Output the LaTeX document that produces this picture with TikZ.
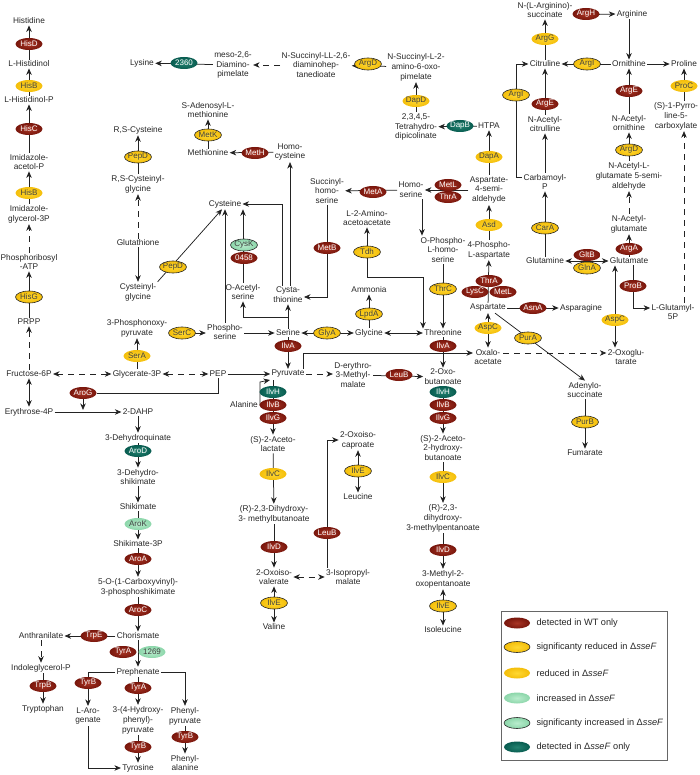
\documentclass[tikz,border=0pt]{standalone}
\usepackage{fontspec}
\setmainfont{Liberation Sans}
\usetikzlibrary{shapes.geometric,arrows.meta,calc}
\pgfdeclarelayer{bg}
\pgfsetlayers{bg,main}
\definecolor{wtred}{RGB}{120,22,12}
\definecolor{wtredin}{RGB}{168,52,36}
\definecolor{yel}{RGB}{244,190,10}
\definecolor{yelin}{RGB}{255,216,50}
\definecolor{lgr}{RGB}{140,214,170}
\definecolor{lgrin}{RGB}{185,236,205}
\definecolor{tealc}{RGB}{8,92,80}
\definecolor{tealin}{RGB}{35,130,112}
\definecolor{lncol}{RGB}{35,35,35}
\begin{document}
\begin{tikzpicture}[x=1pt,y=-1pt,
  met/.style={align=center,font=\fontsize{8.3}{9.9}\selectfont,inner sep=1.2pt,text=black!85},
  enzbase/.style={ellipse,minimum width=27pt,minimum height=12pt,inner sep=0pt,
     font=\fontsize{8}{9}\selectfont,
     execute at begin node={\hbox to 0pt\bgroup\hss},execute at end node={\hss\egroup}},
  wt/.style={enzbase,inner color=wtredin,outer color=wtred,text=white},
  sred/.style={enzbase,inner color=yelin,outer color=yel,draw=black!85,line width=0.6pt,text=black!75},
  rdc/.style={enzbase,inner color=yelin,outer color=yel,text=black!75},
  inc/.style={enzbase,inner color=lgrin,outer color=lgr,text=black!75},
  sinc/.style={inc,draw=black!85,line width=0.6pt},
  ko/.style={enzbase,inner color=tealin,outer color=tealc,text=white},
  lin/.style={draw=lncol,line width=0.75pt},
  arr/.style={lin,-{Stealth[length=6.5pt,width=5.5pt,inset=2pt]}},
  arrb/.style={lin,{Stealth[length=6.5pt,width=5.5pt,inset=2pt]}-{Stealth[length=6.5pt,width=5.5pt,inset=2pt]}},
  dsh/.style={dash pattern=on 6pt off 5pt},
  legt/.style={anchor=west,font=\fontsize{9.2}{11}\selectfont,text=black!85},
]
\useasboundingbox (0,0) rectangle (700,775);

% ---------------- Histidine
\node[met] (his) at (29,21) {Histidine};
\node[met] (hisol) at (29,64) {L-Histidinol};
\node[met] (hisolp) at (29,100) {L-Histidinol-P};
\node[met] (iap) at (29,162) {Imidazole-\\acetol-P};
\node[met] (igp) at (29,214) {Imidazole-\\glycerol-3P};
\node[met] (prat) at (29,262) {Phosphoribosyl\\-ATP};
\node[met] (prpp) at (29,322) {PRPP};
\node[met] (f6p) at (29,374) {Fructose-6P};
\node[met] (e4p) at (29,412) {Erythrose-4P};
\node[wt] (HisD) at (29,44) {HisD};
\node[rdc] (HisBa) at (29,86) {HisB};
\node[wt] (HisC) at (29,129) {HisC};
\node[rdc] (HisBb) at (29,193) {HisB};
\node[sred] (HisG) at (29,297) {HisG};

% ---------------- Serine / glycolysis
\node[met] (g3p) at (137,374) {Glycerate-3P};
\node[met] (pep) at (218,374) {PEP};
\node[met] (ppyr) at (137,328) {3-Phosphonoxy-\\pyruvate};
\node[met] (pser) at (225,332) {Phospho-\\serine};
\node[rdc] (SerA) at (137,356) {SerA};
\node[sred] (SerC) at (182,333) {SerC};

% ---------------- Cysteine / methionine
\node[met] (rscys) at (138,130) {R,S-Cysteine};
\node[met] (rscysgly) at (138,184) {R,S-Cysteinyl-\\glycine};
\node[met] (gsh) at (138,243) {Glutathione};
\node[met] (cysgly) at (138,292) {Cysteinyl-\\glycine};
\node[met] (cys) at (225,204) {Cysteine};
\node[sred] (PepDa) at (138,157) {PepD};
\node[sred] (PepDb) at (173,267) {PepD};
\node[met] (oas) at (243,292) {O-Acetyl-\\serine};
\node[met] (ser) at (288,333) {Serine};
\node[met] (cysta) at (288,295) {Cysta-\\thionine};
\node[met] (hcys) at (290,152) {Homo-\\cysteine};
\node[met] (met) at (208,153) {Methionine};
\node[met] (sam) at (208,110) {S-Adenosyl-L-\\methionine};
\node[sred] (MetK) at (208,135) {MetK};
\node[wt] (MetH) at (255,153) {MetH};
\node[sinc] (CysK) at (244,245) {CysK};
\node[wt] (E0458) at (244,258) {0458};
\node[met] (shser) at (327,191) {Succinyl-\\homo-\\serine};
\node[met] (hser) at (411,190) {Homo-\\serine};
\node[wt] (MetA) at (373,192) {MetA};
\node[wt] (MetB) at (327,248) {MetB};
\node[wt] (MetLa) at (448,185) {MetL};
\node[wt] (ThrAa) at (448,197) {ThrA};

% ---------------- Glycine / threonine
\node[met] (aaa) at (367,218) {L-2-Amino-\\acetoacetate};
\node[sred] (Tdh) at (367,252) {Tdh};
\node[met] (ammonia) at (369,290) {Ammonia};
\node[sred] (LpdA) at (369,314) {LpdA};
\node[met] (gly) at (369,333) {Glycine};
\node[sred] (GlyA) at (327,333) {GlyA};
\node[met] (thr) at (443,333) {Threonine};
\node[met] (ophs) at (443,250) {O-Phospho-\\L-homo-\\serine};
\node[sred] (ThrC) at (443,289) {ThrC};
\node[wt] (IlvAa) at (288,346) {IlvA};
\node[wt] (IlvAb) at (443,346) {IlvA};
\node[met] (pyr) at (288,374) {Pyruvate};
\node[met] (dem) at (353,375) {D-erythro-\\3-Methyl-\\malate};
\node[wt] (LeuBa) at (399,375) {LeuB};
\node[met] (oxob) at (443,377) {2-Oxo-\\butanoate};

% ---------------- Lysine
\node[met] (lys) at (142,63) {Lysine};
\node[ko] (E2360) at (184,63) {2360};
\node[met] (meso) at (233,65) {meso-2,6-\\Diamino-\\pimelate};
\node[met] (nsll) at (316,65) {N-Succinyl-LL-2,6-\\diaminohep-\\tanedioate};
\node[sred] (ArgDa) at (368,64) {ArgD};
\node[met] (nsl2) at (416,67) {N-Succinyl-L-2-\\amino-6-oxo-\\pimelate};
\node[rdc] (DapD) at (416,101) {DapD};
\node[met] (thdp) at (416,127) {2,3,4,5-\\Tetrahydro-\\dipicolinate};
\node[ko] (DapB) at (460,126) {DapB};
\node[met] (htpa) at (489,126) {HTPA};
\node[rdc] (DapA) at (489,157) {DapA};
\node[met] (asa) at (489,190) {Aspartate-\\4-semi-\\aldehyde};
\node[rdc] (Asd) at (489,225) {Asd};
\node[met] (pasp) at (489,250) {4-Phospho-\\L-aspartate};
\node[met] (asp) at (488,308) {Aspartate};
\node[wt] (AsnA) at (533,308) {AsnA};
\node[met] (asn) at (581,308) {Asparagine};
\node[rdc] (AspCa) at (488,328) {AspC};
\node[met] (oaa) at (488,357) {Oxalo-\\acetate};
\node[met] (adsucc) at (585,390) {Adenylo-\\succinate};
\node[sred] (PurB) at (585,422) {PurB};
\node[met] (fum) at (585,453) {Fumarate};
\node[met] (oxoglu) at (626,357) {2-Oxoglu-\\tarate};

% ---------------- Arginine / proline
\node[met] (glu) at (629,261) {Glutamate};
\node[met] (gln) at (545,261) {Glutamine};
\node[wt] (GltB) at (587,255) {GltB};
\node[sred] (GlnA) at (587,268) {GlnA};
\node[sred] (CarA) at (545,228) {CarA};
\node[met] (carbp) at (545,182) {Carbamoyl-\\P};
\node[wt] (ArgA) at (629,249) {ArgA};
\node[met] (nag) at (629,224) {N-Acetyl-\\glutamate};
\node[met] (nagsa) at (629,176) {N-Acetyl-L-\\glutamate 5-semi-\\aldehyde};
\node[sred] (ArgDb) at (629,150) {ArgD};
\node[met] (nao) at (629,123) {N-Acetyl-\\ornithine};
\node[wt] (ArgEb) at (629,91) {ArgE};
\node[met] (orn) at (629,64) {Ornithine};
\node[met] (pro) at (684,64) {Proline};
\node[rdc] (ProC) at (684,86) {ProC};
\node[met] (p5c) at (676,116) {(S)-1-Pyrro-\\line-5-\\carboxylate};
\node[wt] (ProB) at (633,286) {ProB};
\node[met] (g5p) at (673,312) {L-Glutamyl-\\5P};
\node[rdc] (AspCb) at (615,320) {AspC};
\node[met] (arg) at (632,14) {Arginine};
\node[wt] (ArgH) at (586,14) {ArgH};
\node[met] (asuc) at (545,10) {N-(L-Arginino)-\\succinate};
\node[rdc] (ArgG) at (545,39) {ArgG};
\node[met] (cit) at (545,64) {Citruline};
\node[sred] (ArgIa) at (587,64) {ArgI};
\node[wt] (ArgEa) at (545,104) {ArgE};
\node[met] (nac) at (545,124) {N-Acetyl-\\citrulline};
\node[sred] (ArgIb) at (516,95) {ArgI};
\coordinate (cj) at (516,64);

% ---------------- aspartate kinases
\node[wt] (ThrAb) at (489,281) {ThrA};
\node[wt] (LysC) at (475,292) {LysC};
\node[wt] (MetLb) at (503,292) {MetL};
\node[sred] (PurA) at (528,338) {PurA};

% ---------------- Aromatic
\node[wt] (AroG) at (83,393) {AroG};
\coordinate (aroj) at (83,410);
\node[met] (dahp) at (138,412) {2-DAHP};
\node[met] (dhq) at (138,438) {3-Dehydroquinate};
\node[ko] (AroD) at (138,451) {AroD};
\node[met] (dhs) at (138,477) {3-Dehydro-\\shikimate};
\node[met] (shik) at (138,507) {Shikimate};
\node[inc] (AroK) at (138,524) {AroK};
\node[met] (s3p) at (138,544) {Shikimate-3P};
\node[wt] (AroA) at (138,559) {AroA};
\node[met] (epsp) at (138,587) {5-O-(1-Carboxyvinyl)-\\3-phosphoshikimate};
\node[wt] (AroC) at (138,610) {AroC};
\node[met] (chor) at (138,636) {Chorismate};
\node[wt] (TrpE) at (94,636) {TrpE};
\node[met] (anth) at (41,636) {Anthranilate};
\node[met] (igpt) at (41,668) {Indoleglycerol-P};
\node[wt] (TrpB) at (43,686) {TrpB};
\node[met] (trp) at (43,709) {Tryptophan};
\node[wt] (TyrAa) at (123,652) {TyrA};
\node[inc] (E1269) at (152,652) {1269};
\node[met] (preph) at (138,672) {Prephenate};
\node[wt] (TyrBa) at (88,683) {TyrB};
\node[met] (larog) at (88,716) {L-Aro-\\genate};
\node[wt] (TyrAb) at (138,688) {TyrA};
\node[met] (hpp) at (138,720) {3-(4-Hydroxy-\\phenyl)-\\pyruvate};
\node[wt] (TyrBb) at (138,747) {TyrB};
\node[met] (tyr) at (138,768) {Tyrosine};
\node[met] (phpyr) at (185,716) {Phenyl-\\pyruvate};
\node[wt] (TyrBc) at (185,737) {TyrB};
\node[met] (phe) at (185,763) {Phenyl-\\alanine};

% ---------------- Branched chain
\node[met] (ala) at (244,405) {Alanine};
\coordinate (alaj) at (260,382);
\coordinate (ilvtop) at (273,380);
\node[ko] (IlvHa) at (273,392) {IlvH};
\node[wt] (IlvBa) at (273,405) {IlvB};
\node[wt] (IlvGa) at (273,418) {IlvG};
\node[met] (acl) at (273,444) {(S)-2-Aceto-\\lactate};
\node[rdc] (IlvCa) at (273,474) {IlvC};
\node[met] (dhmb) at (274,514) {(R)-2,3-Dihydroxy-\\3- methylbutanoate};
\node[wt] (IlvDa) at (274,547) {IlvD};
\node[met] (oiv) at (274,577) {2-Oxoiso-\\valerate};
\node[sred] (IlvEa) at (274,603) {IlvE};
\node[met] (val) at (274,627) {Valine};
\node[met] (ipm) at (348,577) {3-Isopropyl-\\malate};
\node[wt] (LeuBb) at (327,533) {LeuB};
\node[met] (oic) at (358,440) {2-Oxoiso-\\caproate};
\node[sred] (IlvEb) at (358,471) {IlvE};
\node[met] (leu) at (358,497) {Leucine};
\node[ko] (IlvHb) at (443,392) {IlvH};
\node[wt] (IlvBb) at (443,405) {IlvB};
\node[wt] (IlvGb) at (443,418) {IlvG};
\node[met] (ahb) at (443,448) {(S)-2-Aceto-\\2-hydroxy-\\butanoate};
\node[rdc] (IlvCb) at (443,477) {IlvC};
\node[met] (dhmp) at (443,518) {(R)-2,3-\\dihydroxy-\\3-methylpentanoate};
\node[wt] (IlvDb) at (443,550) {IlvD};
\node[met] (mop) at (443,579) {3-Methyl-2-\\oxopentanoate};
\node[sred] (IlvEc) at (443,606) {IlvE};
\node[met] (ile) at (443,630) {Isoleucine};

% ---------------- Legend
\node[draw=black!60,line width=0.7pt,minimum width=166pt,minimum height=149pt,inner sep=0pt] (leg) at (584,685.5) {};
\node[wt,minimum width=26pt,minimum height=11pt] (L1) at (517,623) {};
\node[sred,minimum width=26pt,minimum height=11pt] (L2) at (517,647) {};
\node[rdc,minimum width=26pt,minimum height=11pt] (L3) at (517,673) {};
\node[inc,minimum width=26pt,minimum height=11pt] (L4) at (517,698) {};
\node[sinc,minimum width=26pt,minimum height=11pt] (L5) at (517,723) {};
\node[ko,minimum width=26pt,minimum height=11pt] (L6) at (517,747) {};
\node[legt] (T1) at (533,623) {detected in WT only};
\node[legt] (T2) at (533,647) {significanty reduced in Δ\textit{sseF}};
\node[legt] (T3) at (533,673) {reduced in Δ\textit{sseF}};
\node[legt] (T4) at (533,698) {increased in Δ\textit{sseF}};
\node[legt] (T5) at (533,723) {significanty increased in Δ\textit{sseF}};
\node[legt] (T6) at (533,747) {detected in Δ\textit{sseF} only};

% ================= connectors
\begin{pgfonlayer}{bg}
% histidine
\draw[arr] (hisol) -- (his);
\draw[arr] (hisolp) -- (hisol);
\draw[arr] (iap) -- (hisolp);
\draw[arr] (igp) -- (iap);
\draw[arr,dsh] (prat) -- (igp);
\draw[arr] (prpp) -- (prat);
\draw[arr,dsh] (f6p) -- (prpp);
\draw[arrb] (f6p) -- (e4p);
\draw[arrb,dsh] (f6p) -- (g3p);
\draw[arrb,dsh] (g3p) -- (pep);
\draw[arr] (g3p) -- (ppyr);
\draw[arrb] (ppyr.east |- SerC) -- (pser.west |- SerC);
\draw[arr] (pser.east |- ser) -- (ser.west);
\draw[arr] (pser.north) -- (cys.south);
% cysteine
\draw[arr] (cysgly.north east) -- ([xshift=-3pt]cys.south);
\draw[arr] (gsh) -- (cysgly);
\draw[arr,dsh] (gsh) -- (rscysgly);
\draw[arr] (rscysgly) -- (rscys);
\draw[arr] (oas.north) -- (oas.north |- cys.south);
\coordinate (sj) at (288,317);
\draw[arr] (sj) -| (oas.south);
\draw[arr] (ser.north) -- (cysta.south);
\draw[arr] ([xshift=-6pt]cysta.north) |- (cys.east);
\draw[arr] (hcys.south |- cysta.north) -- (hcys.south);
\draw[arr] (hcys) -- (met);
\draw[arr] (met) -- (sam);
\draw[arr] (shser.south) |- ([yshift=-2pt]cysta.east);
\draw[arr] (hser) -- (shser);
\draw[arr] (asa) -- (hser);
\draw[arr] ([xshift=11pt]hser.south) -- ([xshift=11pt]hser.south |- ophs.north);
% glycine, threonine
\draw[arrb] (ser) -- (gly);
\draw[arrb] (gly) -- (thr);
\draw[arr] (gly) -- (ammonia);
\coordinate (tj1) at (423,277);
\coordinate (tj2) at (367,277);
\draw[arrb] (thr.north -| tj1) -- (tj1) -- (tj2) -- (aaa.south);
\draw[arr] (ophs) -- (thr);
\draw[arr] (ser) -- (pyr);
\draw[arr] (thr) -- (oxob);
\draw[arr] (pep) -- (pyr);
\draw[arr,dsh] (pyr) -- (dem.west |- pyr);
\draw[arr] (dem) -- (oxob);
\draw[arr] ([xshift=15pt]pyr.north) |- ([yshift=4pt]oaa.west);
\draw[arr,dsh] ([yshift=4pt]oaa.east) -- ([yshift=4pt]oxoglu.west);
% aromatic
\draw[lin] (pep.south) |- (AroG.east);
\draw[arr] (AroG.south) -- (aroj);
\draw[arr] (e4p) -- (dahp);
\draw[arr] (dahp) -- (dhq);
\draw[arr] (dhq) -- (dhs);
\draw[arr] (dhs) -- (shik);
\draw[arr] (shik) -- (s3p);
\draw[arr] (s3p) -- (epsp);
\draw[arr] (epsp) -- (chor);
\draw[arr] (chor) -- (anth);
\draw[arr,dsh] (anth) -- (igpt);
\draw[arr] (igpt.south -| trp) -- (trp);
\draw[arr] (chor) -- (preph);
\draw[arr] (preph.west) -| (larog.north);
\draw[arr] (preph.east) -| (phpyr.north);
\draw[arr] (preph) -- (hpp);
\draw[arr] (hpp) -- (tyr);
\draw[arr] (larog.south) |- (tyr.west);
\draw[arr] (phpyr) -- (phe);
% branched chain
\draw[arr] (ilvtop) -- (acl.north);
\draw[arrb] (ala.east) -| (alaj) -- (ilvtop -| 270,0);
\draw[arr] (acl) -- (dhmb);
\draw[arr] (dhmb) -- (oiv);
\draw[arr] (IlvEa) -- (oiv);
\draw[arr] (IlvEa) -- (val);
\draw[arrb,dsh] (oiv) -- (ipm);
\draw[arr] ([xshift=-21pt]ipm.north) |- (oic.west);
\draw[arr] (IlvEb) -- (oic);
\draw[arr] (IlvEb) -- (leu);
\draw[arr] (oxob) -- (ahb);
\draw[arr] (ahb) -- (dhmp);
\draw[arr] (dhmp) -- (mop);
\draw[arr] (IlvEc) -- (mop);
\draw[arr] (IlvEc) -- (ile);
% lysine
\draw[arr] (meso) -- (lys);
\draw[arr,dsh] (nsll) -- (meso);
\draw[arr] (nsl2) -- (nsll);
\draw[arr] (thdp) -- (nsl2);
\draw[arr] (htpa) -- (thdp);
\draw[arr] (asa) -- (htpa);
\draw[arr] (pasp) -- (asa);
\draw[arr] (asp) -- (pasp);
\draw[arr] (asp) -- (asn);
\draw[arrb] (asp) -- (oaa);
\draw[arr] ([xshift=7pt]asp.south) -- (adsucc.north);
\draw[arr] (adsucc) -- (fum);
% arginine
\draw[arrb] (gln) -- (glu);
\draw[arr] (gln) -- (carbp);
\draw[arr] (carbp) -- (nac);
\draw[arr] (nac) -- (cit);
\draw[arr] ([yshift=5pt]carbp.west) -| (cj) -- (cit.west);
\draw[arr] (cit) -- (asuc);
\draw[arr] ([yshift=-5pt]asuc.east) -- (arg.west);
\draw[arr] (arg.south -| orn) -- (orn.north);
\draw[arr] (orn) -- (cit);
\draw[arr] (orn) -- (pro);
\draw[arr] (nao) -- (orn);
\draw[arr] (nagsa) -- (nao);
\draw[arr,dsh] (nag) -- (nagsa);
\draw[arr] (glu) -- (nag);
\draw[arr] (glu.south -| ProB) |- ([yshift=4pt]g5p.west);
\draw[arrb] (glu.south -| AspCb) -- (oxoglu.north -| AspCb);
\draw[arr,dsh] (g5p.north -| ProC) -- (p5c.south -| ProC);
\draw[arr] (p5c.north -| ProC) -- (pro.south);
\end{pgfonlayer}
\end{tikzpicture}
\end{document}
